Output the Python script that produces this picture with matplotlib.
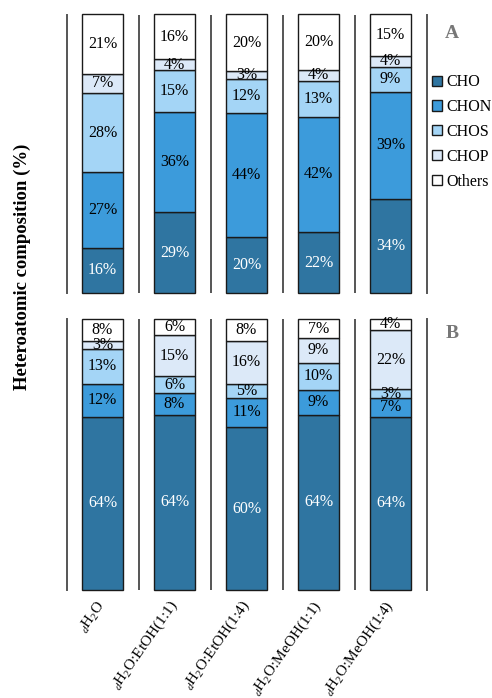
import matplotlib
matplotlib.use("Agg")
import matplotlib.pyplot as plt
from matplotlib.patches import Patch
import numpy as np

plt.rcParams["font.family"] = ["Liberation Serif", "DejaVu Serif"]
plt.rcParams["mathtext.fontset"] = "custom"
plt.rcParams["mathtext.rm"] = "Liberation Serif"
plt.rcParams["mathtext.it"] = "Liberation Serif:italic"
plt.rcParams["mathtext.bf"] = "Liberation Serif:bold"

solvents = [r"${}_{d}$H$_{2}$O",
            r"${}_{d}$H$_{2}$O:EtOH(1:1)",
            r"${}_{d}$H$_{2}$O:EtOH(1:4)",
            r"${}_{d}$H$_{2}$O:MeOH(1:1)",
            r"${}_{d}$H$_{2}$O:MeOH(1:4)"]
classes = ["CHO", "CHON", "CHOS", "CHOP", "Others"]
colors = ["#2f75a1", "#3c9bdb", "#a4d5f6", "#dce9f8", "#ffffff"]
text_colors = ["white", "black", "black", "black", "black"]

# Panel A (%)
a_cho = [16, 29, 20, 22, 34]
a_chon = [27, 36, 44, 42, 39]
a_chos = [28, 15, 12, 13, 9]
a_chop = [7, 4, 3, 4, 4]
a_others = [21, 16, 20, 20, 15]

# Panel B (%)
b_cho = [64, 64, 60, 64, 64]
b_chon = [12, 8, 11, 9, 7]
b_chos = [13, 6, 5, 10, 3]
b_chop = [3, 15, 16, 9, 22]
b_others = [8, 6, 8, 7, 4]

W, H = 492, 698
fig = plt.figure(figsize=(W / 100, H / 100), dpi=100)

left = 66.5 / W
width = (426.5 - 66.5) / W
ax_a = fig.add_axes([left, 1 - 293 / H, width, (293 - 14.5) / H])
ax_b = fig.add_axes([left, 1 - 590 / H, width, (590 - 319) / H])

x = np.arange(len(solvents))
bar_w = 0.57


def draw_panel(ax, series):
    data = np.asarray(series, dtype=float)
    # rounded percentages do not always add to exactly 100, so each
    # column is stacked as shares of its own total
    shares = data / data.sum(axis=0) * 100
    bottom = np.zeros(len(x))
    for vals, shr, col, tcol in zip(data, shares, colors, text_colors):
        ax.bar(x, shr, bar_w, bottom=bottom, color=col,
               edgecolor="#1a1a1a", linewidth=1.0, zorder=2)
        for xi, b, s, v in zip(x, bottom, shr, vals):
            ax.text(xi, b + s / 2, f"{int(v)}%", ha="center", va="center",
                    fontsize=11.5, color=tcol, zorder=3)
        bottom += shr
    ax.set_xlim(-0.5, 4.5)
    ax.set_ylim(0, 100)
    for s in ("top", "bottom"):
        ax.spines[s].set_visible(False)
    for s in ("left", "right"):
        ax.spines[s].set_color("#555555")
        ax.spines[s].set_linewidth(1.4)
    for xs in np.arange(0.5, 4.5, 1.0):
        ax.axvline(xs, color="#555555", linewidth=1.4, zorder=1)
    ax.set_yticks([])
    ax.tick_params(axis="x", length=0)


draw_panel(ax_a, [a_cho, a_chon, a_chos, a_chop, a_others])
draw_panel(ax_b, [b_cho, b_chon, b_chos, b_chop, b_others])

for ax in (ax_a, ax_b):
    for bar in ax.patches:
        bar.set_clip_on(False)

ax_a.set_xticks([])
ax_b.set_xticks(x)
ax_b.set_xticklabels(solvents, rotation=55, ha="right", va="center",
                     rotation_mode="anchor", fontsize=11)
ax_b.tick_params(axis="x", pad=9)

fig.text(22 / W, 1 - 267 / H, "Heteroatomic composition (%)", rotation=90,
         ha="center", va="center", fontsize=13.5, fontweight="bold")

fig.text(452 / W, 1 - 33 / H, "A", ha="center", va="center",
         fontsize=14, fontweight="bold", color="#777777")
fig.text(452 / W, 1 - 333 / H, "B", ha="center", va="center",
         fontsize=14, fontweight="bold", color="#777777")

handles = [Patch(facecolor=c, edgecolor="#1a1a1a", linewidth=1.0) for c in colors]
fig.legend(handles, classes, loc="upper left",
           bbox_to_anchor=(426 / W, 1 - 68 / H), frameon=False,
           fontsize=11.5, handlelength=0.6, handleheight=0.6,
           handletextpad=0.25, labelspacing=0.55, borderaxespad=0)

fig.savefig("out.png", dpi=100)
